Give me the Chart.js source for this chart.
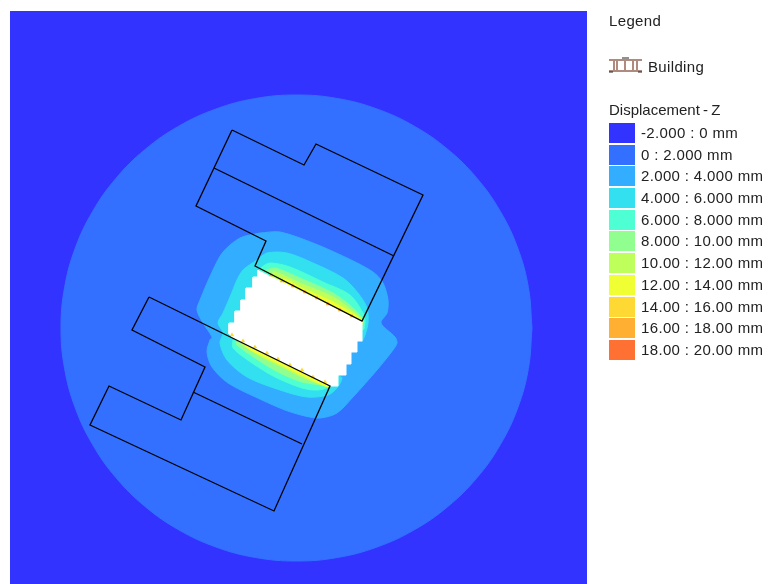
<!DOCTYPE html>
<html lang="en">
<head>
  <meta charset="UTF-8">
  <title>Displacement - Z</title>
  <script src="https://cdn.jsdelivr.net/npm/chart.js@4"></script>
  <style>
    body { margin: 0; background: #fff; font-family: "Liberation Sans", Arial, sans-serif; color: #222; }
    #wrap { position: relative; width: 768px; height: 584px; overflow: hidden; }
    canvas { position: absolute; left: 0; top: 0; }
    #legend { position: absolute; left: 609px; top: 0; width: 159px; font-size: 15px; letter-spacing: .35px; }
    #legend .t { position: absolute; left: 0; white-space: nowrap; line-height: 18px; }
    #legend svg { position: absolute; left: -1px; top: 55px; }
    #rows { position: absolute; left: 0; top: 123px; }
    .row { position: relative; height: 21.7px; white-space: nowrap; line-height: 21px; }
    .row i { position: absolute; left: 0; top: 0; width: 26px; height: 20px; }
    .row span { position: absolute; left: 32px; top: -1px; }
  </style>
</head>
<body>
<div id="wrap">
  <canvas id="chart" width="768" height="584"></canvas>
  <div id="legend">
    <div class="t" style="top:12px">Legend</div>
    <svg width="36" height="20" viewBox="0 0 36 20">
      <path d="M1 5h33M1 16h33M9 5v11M17 5v11M25 5v11M6 5v11M29 5v11" stroke="#b08a7c" stroke-width="2" fill="none"/>
      <path d="M14 3h7M1 17h4M30 17h4" stroke="#222" stroke-width="1" fill="none"/>
    </svg>
    <div class="t" style="top:58px;left:39px">Building</div>
    <div class="t" style="top:101px;letter-spacing:0;word-spacing:-1px">Displacement - Z</div>
    <div id="rows"></div>
  </div>
</div>
<script>
// legend classes
const legendLabels = ['-2.000 : 0 mm', '0 : 2.000 mm', '2.000 : 4.000 mm', '4.000 : 6.000 mm', '6.000 : 8.000 mm',
  '8.000 : 10.00 mm', '10.00 : 12.00 mm', '12.00 : 14.00 mm', '14.00 : 16.00 mm', '16.00 : 18.00 mm', '18.00 : 20.00 mm'];
const legendColors = ['#3333ff', '#3370ff', '#33adff', '#33e0f0', '#4dffd2', '#90ff90', '#bfff5c', '#efff33', '#ffd933', '#ffb033', '#ff7033'];

// contour bands (site coordinates, y runs downwards)
const band0to2 = [[532,328],[528.4,368.5],[517.8,407.7],[500.4,444.5],[476.9,477.8],[447.9,506.5],[414.3,529.8],[377,547],[337.4,557.5],
  [296.5,561],[255.6,557.5],[216,547],[178.7,529.8],[145.1,506.5],[116.1,477.8],[92.6,444.5],[75.2,407.7],[64.6,368.5],[61,328],
  [64.6,287.5],[75.2,248.3],[92.6,211.5],[116.1,178.2],[145.1,149.5],[178.7,126.2],[216,109],[255.6,98.5],[296.5,95],[337.4,98.5],
  [377,109],[414.3,126.2],[447.9,149.5],[476.9,178.2],[500.4,211.5],[517.8,248.3],[528.4,287.5],[532,328]];
const band2to4 = [[260,233],[280,232],[313,243],[347,258],[373,272],[383,283],[388,300],[387,313],[381,323],[395,337],[397,343],[393,350],
  [377,370],[353,397],[337,413],[320,418],[305,416],[285,410],[262,400],[228,383],[212,367],[207,352],[210,340],[212,337],[203,323],[197,310],
  [200,300],[213,270],[223,252],[240,238],[260,233]];
const band4to6 = [[362,342],[365,335],[368,323],[367,308],[358,293],[343,278],[313,263],[287,253],[267,253],[257,260],[243,270],[237,280],
  [230,297],[223,313],[218,323],[223,333],[220,343],[227,360],[247,377],[280,390],[307,397],[328,395],[337,388],[342,378],[338,375],[320,340],[355,335]];
const band6to8Top = [[258,272],[262,267],[270,263],[290,267],[323,282],[350,295],[363,313],[365,322],[363,330],[355,325],[300,300]];
const band8to10Top = [[266,270],[275,268],[300,278],[333,293],[352,307],[362,318],[362,325],[300,300]];
const band10to12Top = [[270,275],[275,272],[300,283],[333,297],[350,309],[362,320],[355,325],[300,300]];
const band12to14Top = [[280,280],[285,279],[300,287],[333,302],[355,315],[363,322],[355,325],[300,300]];
const band6to8Bottom = [[233,340],[233,348],[252,363],[275,377],[302,388],[318,390],[328,386],[280,340]];
const band8to10Bottom = [[236,342],[237,345],[255,358],[278,372],[302,382],[322,385],[328,386],[280,340]];
const band10to12Bottom = [[241,344],[262,357],[282,367],[302,377],[320,384],[328,386],[280,340]];
const band12to14Bottom = [[245,346],[250,349.7],[270,359.5],[290,369.3],[310,379],[328,386.5],[280,340]];

// excavation (no result) and the peak cells along its long edges
const excavation = [[258,270],[258,277],[253,277],[253,288],[246,288],[246,300],[241,300],[241,311],[235,311],[235,323],[229,323],[229,334],
  [233,338],[330,386],[338,386],[338,375],[346,375],[346,364],[351,364],[351,352],[357,352],[357,341],[362,341],[362,321]];
const peakTop = [[271,275],[282,281],[293,286],[305,292],[317,298],[328,304],[340,310],[352,316]];
const peakBottom = [[232,335],[243,341],[255,347],[267,353],[278,359],[290,365],[302,370],[313,377],[325,382]];

// building outlines
const buildingNorth = [[232,130],[304,165],[316,144],[423,195],[362,321],[255,266],[266,241],[196,206],[232,130]];
const buildingNorthWall = [[214,168],[394,256]];
const buildingSouth = [[149,297],[330,386],[274,511],[90,425],[109,386],[181,420],[205,367],[132,330],[149,297]];
const buildingSouthWall = [[193,392],[302,444]];

const xy = a => a.map(p => ({ x: p[0], y: p[1] }));

// first entry is painted first
const layers = [];
function area(points, color, tension) {
  layers.push({ type: 'scatter', data: xy(points), showLine: true, fill: 'shape', backgroundColor: color,
    borderColor: color, borderWidth: 1, pointRadius: 0, tension: tension });
}
function outline(points) {
  layers.push({ type: 'scatter', data: xy(points), showLine: true, fill: false, borderColor: '#000',
    borderWidth: 1.3, pointRadius: 0 });
}
function dots(points, color) {
  layers.push({ type: 'scatter', data: xy(points), showLine: false, pointStyle: 'triangle', pointRadius: 2.6,
    backgroundColor: color, borderWidth: 0 });
}

area(band0to2, legendColors[1], 0.4);
area(band2to4, legendColors[2], 0.3);
area(band4to6, legendColors[3], 0.3);
area(band6to8Top, legendColors[4], 0.3);
area(band6to8Bottom, legendColors[4], 0.3);
area(band8to10Top, legendColors[5], 0.3);
area(band8to10Bottom, legendColors[5], 0.3);
area(band10to12Top, legendColors[6], 0.3);
area(band10to12Bottom, legendColors[6], 0.3);
area(band12to14Top, legendColors[7], 0.3);
area(band12to14Bottom, legendColors[7], 0.3);
area(excavation, '#ffffff', 0);
dots(peakTop, legendColors[9]);
dots(peakBottom, legendColors[8]);
outline(buildingNorth);
outline(buildingNorthWall);
outline(buildingSouth);
outline(buildingSouthWall);
layers.forEach((d, i) => { d.order = layers.length - i; });

// dark blue field behind the site
const fieldPlugin = {
  id: 'field',
  beforeDraw(c) {
    const a = c.chartArea;
    c.ctx.fillStyle = legendColors[0];
    c.ctx.fillRect(a.left, a.top, a.width, a.height);
  }
};

new Chart(document.getElementById('chart'), {
  type: 'scatter',
  data: { datasets: layers },
  plugins: [fieldPlugin],
  options: {
    responsive: false,
    animation: false,
    layout: { autoPadding: false, padding: { left: 10, top: 11, right: 181, bottom: 0 } },
    plugins: { legend: { display: false }, tooltip: { enabled: false } },
    scales: {
      x: { type: 'linear', display: false, min: 10, max: 587 },
      y: { type: 'linear', display: false, min: 11, max: 584, reverse: true }
    }
  }
});

// legend rows
const rows = document.getElementById('rows');
legendLabels.forEach((label, i) => {
  const r = document.createElement('div');
  r.className = 'row';
  r.innerHTML = '<i style="background:' + legendColors[i] + '"></i><span>' + label + '</span>';
  rows.appendChild(r);
});
</script>
</body>
</html>
